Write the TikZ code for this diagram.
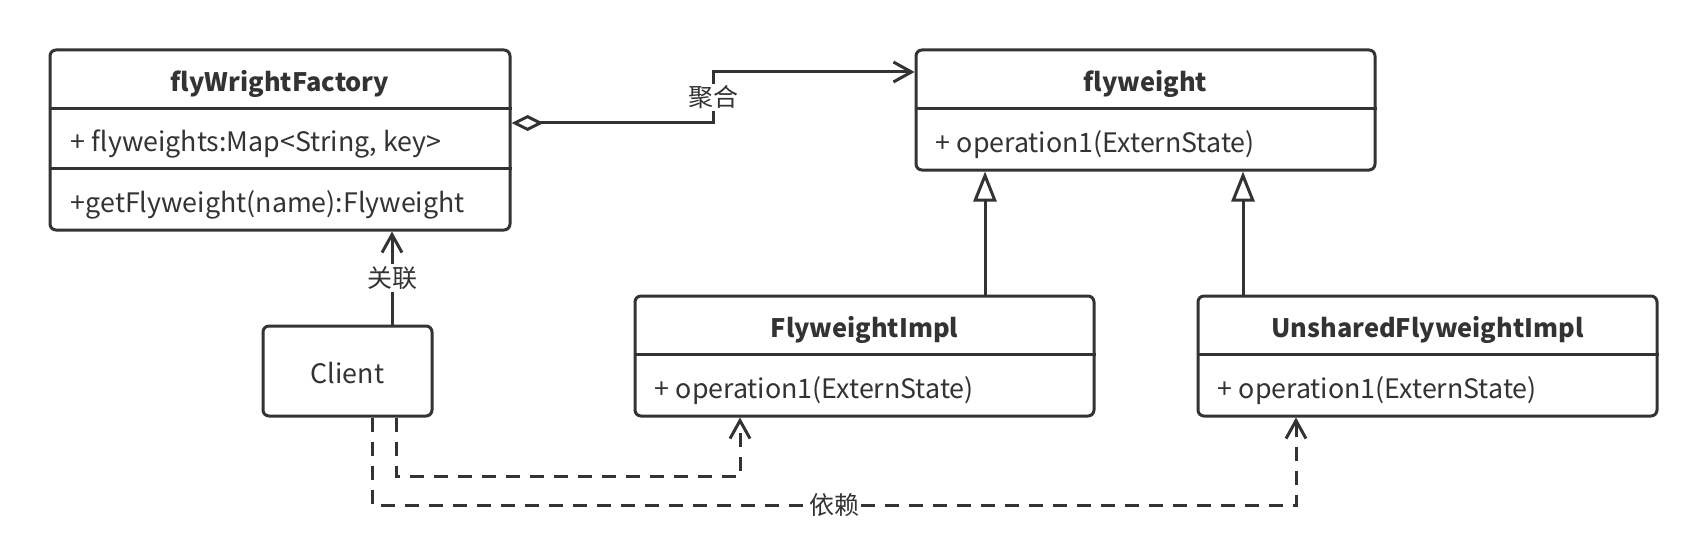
\documentclass[tikz,border=0pt]{standalone}
\usepackage{fontspec}
\setmainfont{Noto Sans CJK SC}
\usepackage{xcolor}
\usepackage{tikz}
\usetikzlibrary{arrows.meta}
\definecolor{umlgray}{HTML}{333333}

\begin{document}
\begin{tikzpicture}[
  x=0.5pt, y=-0.5pt,
  font=\fontsize{13.4}{16}\selectfont,
  cls/.style={draw=umlgray, line width=1.5pt, rounded corners=3pt, fill=white, text=umlgray},
  title/.style={font=\fontsize{12.7}{15}\selectfont\bfseries, text=umlgray},
  member/.style={anchor=west, text=umlgray, inner sep=0pt},
  sep/.style={draw=umlgray, line width=1.5pt},
  conn/.style={draw=umlgray, line width=1.5pt},
  dep/.style={conn, dash pattern=on 7pt off 5pt},
  lbl/.style={fill=white, text=umlgray, inner sep=1pt, font=\fontsize{12.5}{15}\selectfont},
  >={Straight Barb[length=9pt, width=10pt]}
]
\useasboundingbox (0,0) rectangle (1707,556);

% classes
\node[cls, minimum width=230pt, minimum height=90pt] (factory) at (280,140) {};
\node[cls, minimum width=229.5pt, minimum height=60pt] (flyweight) at (1145.5,110) {};
\node[cls, minimum width=229.5pt, minimum height=60pt] (impl) at (864.5,356) {};
\node[cls, minimum width=229.5pt, minimum height=60pt] (unshared) at (1427.5,356) {};
\node[cls, minimum width=84.5pt, minimum height=45pt] (client) at (347.5,371) {};
\node[text=umlgray] (clientName) at ([yshift=-1pt]client.center) {Client};

% compartments
\draw[sep] ([yshift=-30pt]factory.north west) -- ([yshift=-30pt]factory.north east);
\draw[sep] ([yshift=-60pt]factory.north west) -- ([yshift=-60pt]factory.north east);
\draw[sep] ([yshift=-30pt]flyweight.north west) -- ([yshift=-30pt]flyweight.north east);
\draw[sep] ([yshift=-30pt]impl.north west) -- ([yshift=-30pt]impl.north east);
\draw[sep] ([yshift=-30pt]unshared.north west) -- ([yshift=-30pt]unshared.north east);

\node[title] (factoryTitle) at ([yshift=-17.5pt]factory.north) {flyWrightFactory};
\node[member] (factoryAttr) at ([xshift=11pt, yshift=-48pt]factory.north west) {+ flyweights:Map<String, key>};
\node[member] (factoryOp) at ([xshift=11pt, yshift=-78pt]factory.north west) {+getFlyweight(name):Flyweight};

\node[title] (flyweightTitle) at ([yshift=-17.5pt]flyweight.north) {flyweight};
\node[member] (flyweightOp) at ([xshift=10.5pt, yshift=-48pt]flyweight.north west) {+ operation1(ExternState)};

\node[title] (implTitle) at ([yshift=-17.5pt]impl.north) {FlyweightImpl};
\node[member] (implOp) at ([xshift=10.5pt, yshift=-48pt]impl.north west) {+ operation1(ExternState)};

\node[title] (unsharedTitle) at ([yshift=-17.5pt]unshared.north) {UnsharedFlyweightImpl};
\node[member] (unsharedOp) at ([xshift=10.5pt, yshift=-48pt]unshared.north west) {+ operation1(ExternState)};

% aggregation
\coordinate (aggFrom) at ([yshift=8.5pt]factory.east);
\coordinate (aggTo) at ([yshift=19pt]flyweight.west);
\coordinate (aggBend) at (713,0);
\draw[conn, {Diamond[open, fill=white, length=16pt, width=8pt]}->]
  (aggFrom) -- (aggFrom -| aggBend) -- node[lbl] {聚合} (aggBend |- aggTo) -- (aggTo);

% association
\coordinate (assocX) at (392,0);
\draw[conn, ->] (client.north -| assocX) -- node[lbl] {关联} (factory.south -| assocX);

% generalization
\coordinate (inhImpl) at (985,0);
\coordinate (inhUnshared) at (1243,0);
\draw[conn, -{Triangle[open, fill=white, length=15pt, width=11.5pt]}] (impl.north -| inhImpl) -- (flyweight.south -| inhImpl);
\draw[conn, -{Triangle[open, fill=white, length=15pt, width=11.5pt]}] (unshared.north -| inhUnshared) -- (flyweight.south -| inhUnshared);

% dependencies
\coordinate (depImplFrom) at (396,0);
\coordinate (depImplTo) at (740,476);
\coordinate (depUnsharedFrom) at (372,0);
\coordinate (depUnsharedTo) at (1296,505);
\draw[dep, ->] (client.south -| depImplFrom) -- (depImplFrom |- depImplTo) -- (depImplTo) -- (impl.south -| depImplTo);
\draw[dep, ->] (client.south -| depUnsharedFrom) -- (depUnsharedFrom |- depUnsharedTo)
  -- node[lbl] {依赖} (depUnsharedTo) -- (unshared.south -| depUnsharedTo);
\end{tikzpicture}
\end{document}
